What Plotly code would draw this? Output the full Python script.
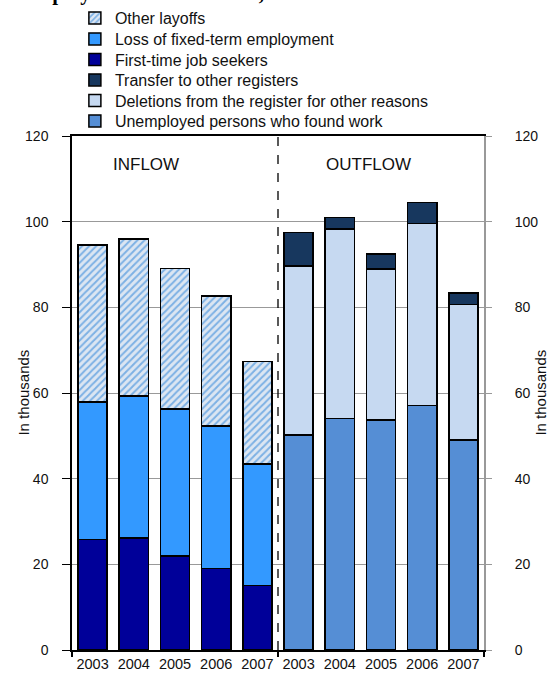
import plotly.graph_objects as go

# ---- data (thousands) ----
years = ["2003", "2004", "2005", "2006", "2007"]
groups = ["INFLOW", "OUTFLOW"]

first_time = [25.8, 26.2, 21.9, 19.0, 15.1]
fixed_term = [32.1, 33.1, 34.4, 33.3, 28.3]
other_layoffs = [36.6, 36.6, 32.8, 30.3, 24.0]

found_work = [50.2, 54.1, 53.7, 57.1, 49.0]
deletions = [39.5, 44.2, 35.2, 42.5, 31.7]
transfer = [7.8, 2.7, 3.5, 4.9, 2.7]

y_ticks = [0, 20, 40, 60, 80, 100, 120]

# positions from category index
x_in = list(range(len(years)))
x_out = [i + len(years) for i in range(len(years))]
all_labels = years + years
all_pos = x_in + x_out

FONT = "Liberation Sans, Arial, sans-serif"
line = dict(color="black", width=1.5)

fig = go.Figure()
# outflow (bottom to top)
fig.add_bar(x=x_out, y=found_work, name="Unemployed persons who found work",
            marker=dict(color="#558ED5", line=line), legend="legend6")
fig.add_bar(x=x_out, y=deletions, name="Deletions from the register for other reasons",
            marker=dict(color="#C6D9F1", line=line), legend="legend5")
fig.add_bar(x=x_out, y=transfer, name="Transfer to other registers",
            marker=dict(color="#17375E", line=line), legend="legend4")
# inflow (bottom to top)
fig.add_bar(x=x_in, y=first_time, name="First-time job seekers",
            marker=dict(color="#000099", line=line), legend="legend3")
fig.add_bar(x=x_in, y=fixed_term, name="Loss of fixed-term employment",
            marker=dict(color="#3399FF", line=line), legend="legend2")
fig.add_bar(x=x_in, y=other_layoffs, name="Other layoffs",
            marker=dict(color="#DCE6F2", line=line,
                        pattern=dict(shape="/", fgcolor="#1E7BD6", size=5,
                                     solidity=0.4, fillmode="overlay")), legend="legend")
# invisible trace to activate the right axis
fig.add_scatter(x=[x_in[0]], y=[0], yaxis="y2", mode="markers",
                marker=dict(opacity=0), showlegend=False, hoverinfo="skip")

# divider between groups
fig.add_shape(type="line", xref="x", yref="y", x0=len(years) - 0.5, x1=len(years) - 0.5,
              y0=0, y1=y_ticks[-1], line=dict(color="black", width=1.3, dash="dash"))

# group labels
fig.add_annotation(x=1.3, y=113.3, xref="x", yref="y", text=groups[0],
                   showarrow=False, font=dict(family=FONT, size=17, color="#111"))
fig.add_annotation(x=6.7, y=113.3, xref="x", yref="y", text=groups[1],
                   showarrow=False, font=dict(family=FONT, size=17, color="#111"))

# axis titles
for xp in (-0.12, 1.135):
    fig.add_annotation(x=xp, y=0.5, xref="paper", yref="paper", text="In thousands",
                       textangle=-90, showarrow=False, xanchor="center", yanchor="middle",
                       font=dict(family=FONT, size=15, color="#111"))

# partially visible title
fig.add_annotation(x=-0.175, y=1.278, xref="paper", yref="paper", xanchor="left", yanchor="middle",
                   text="<b>unemployment in 2003–2007, in thousands</b>", showarrow=False,
                   font=dict(family="Liberation Serif, Times New Roman, serif", size=21, color="black"))

# legends: one per entry for exact line spacing
leg_centers_px = [18, 39, 59.5, 80, 100.5, 121]
leg_common = dict(x=0.007, xanchor="left", yanchor="middle",
                  font=dict(family=FONT, size=16, color="#111"),
                  bgcolor="rgba(0,0,0,0)", itemwidth=30)
legends = {}
for i, yc in enumerate(leg_centers_px):
    key = "legend" if i == 0 else f"legend{i + 1}"
    legends[key] = dict(leg_common, y=(650 - yc) / 514)

fig.update_layout(
    width=552, height=682,
    margin=dict(l=72, r=68, t=136, b=32, autoexpand=False),
    paper_bgcolor="white", plot_bgcolor="white",
    barmode="stack", bargap=0.29,
    font=dict(family=FONT, size=14, color="#222"),
    showlegend=True,
    xaxis=dict(range=[-0.5, len(all_pos) - 0.5], tickmode="array", tickvals=all_pos,
               ticktext=all_labels, ticks="", showline=True, linecolor="black", linewidth=1.5,
               mirror=True, showgrid=False, zeroline=False, automargin=False,
               tickfont=dict(size=14.5, color="#111"),
               minor=dict(ticks="outside", tick0=-0.5, dtick=5, ticklen=5,
                          tickcolor="black", tickwidth=1.5, showgrid=False)),
    yaxis=dict(range=[0, 120], tickvals=y_ticks, ticks="outside", ticklen=8,
               tickcolor="black", tickwidth=1.3, showline=True, linecolor="black", linewidth=1.5,
               showgrid=True, gridcolor="#999999", gridwidth=1.2, zeroline=False,
               automargin=False,
               ticklabelstandoff=11, tickfont=dict(size=14, color="#111")),
    yaxis2=dict(range=[0, 120], tickvals=y_ticks, overlaying="y", side="right",
                ticks="outside", ticklen=6, tickcolor="#999999", tickwidth=1.3,
                showline=True, linecolor="#999999", linewidth=2, showgrid=False, zeroline=False,
                automargin=False,
                ticklabelstandoff=20, tickfont=dict(size=14, color="#111")),
    **legends,
)

fig.write_html("out.html", config={"displayModeBar": False},
               post_script="document.body.style.margin='0';")
